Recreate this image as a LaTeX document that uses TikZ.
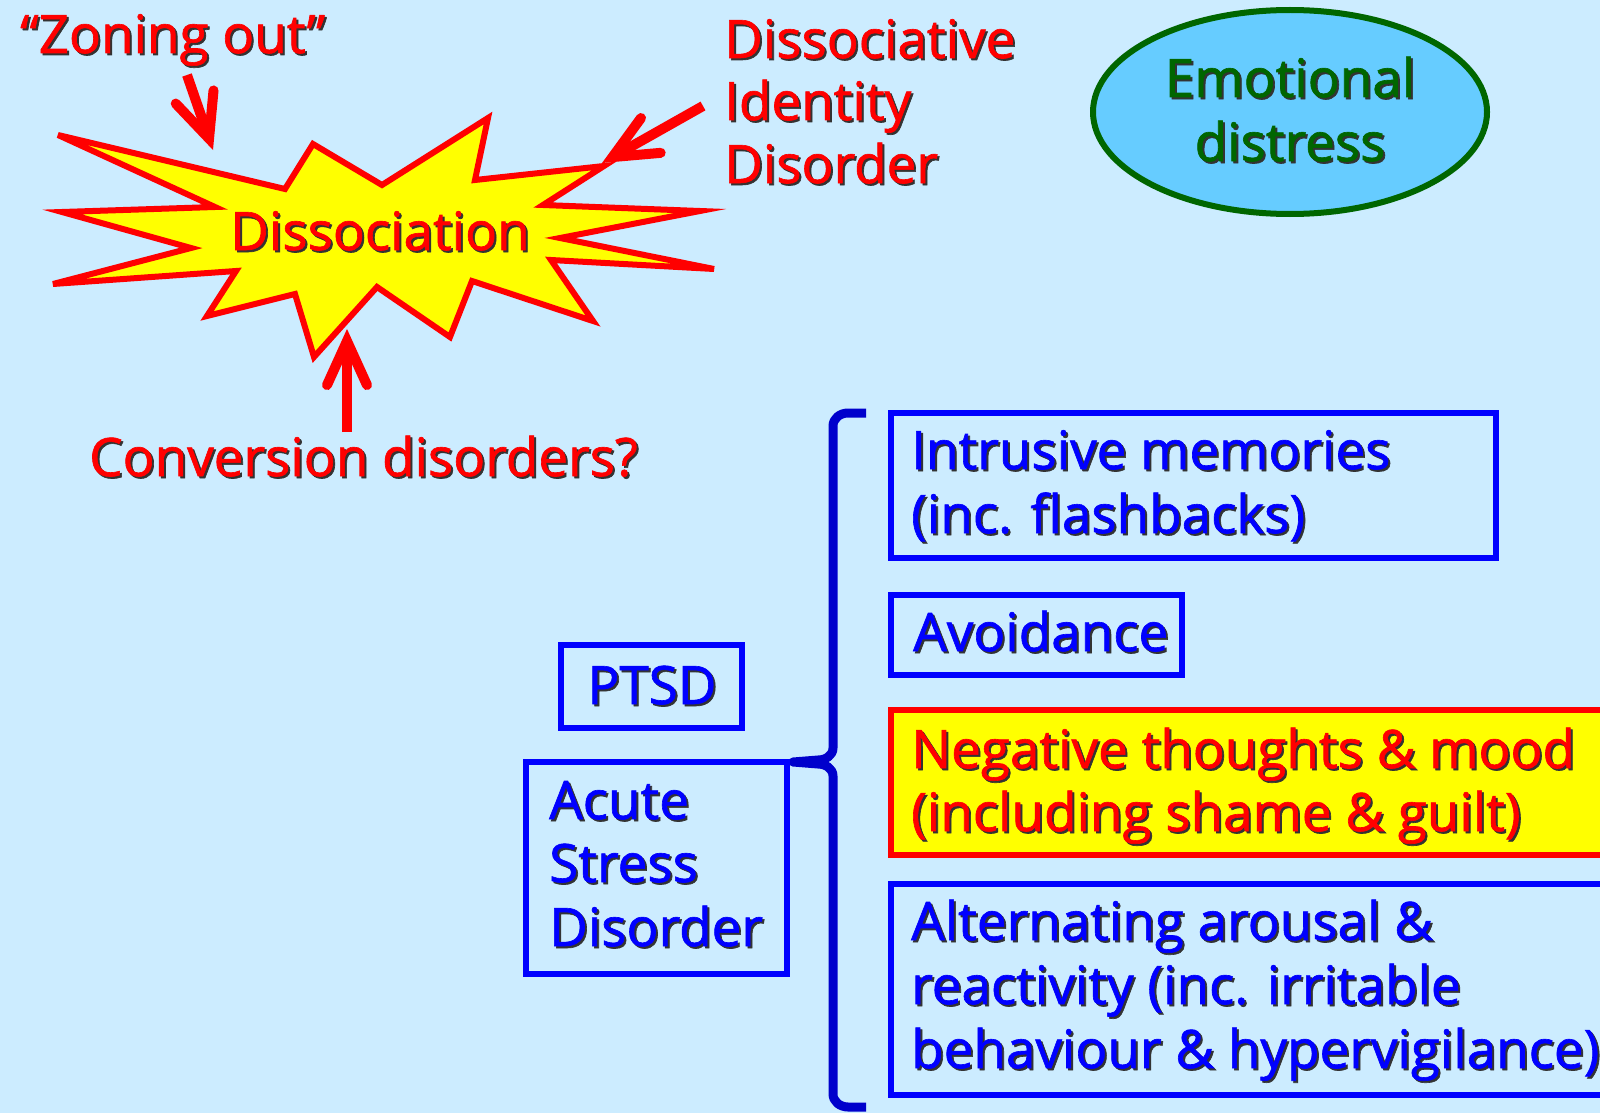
\documentclass[tikz,border=0pt]{standalone}
\usepackage{fontspec}
\setmainfont{Open Sans}[BoldFont=Open Sans, BoldFeatures={FakeBold=1.2}]
\usetikzlibrary{arrows.meta,shapes.geometric}
\definecolor{bg}{HTML}{CCECFF}
\definecolor{myred}{HTML}{FF0000}
\definecolor{myyellow}{HTML}{FFFF00}
\definecolor{myblue}{HTML}{0000FF}
\definecolor{bracecol}{HTML}{0000CC}
\definecolor{ellfill}{HTML}{66CCFF}
\definecolor{ellgreen}{HTML}{006600}
\newcommand\shd[1]{\rlap{\kern2pt\raisebox{-2pt}{\textcolor{black!80}{#1}}}#1}
\begin{document}
\begin{tikzpicture}[x=1pt,y=-1pt,
  txt/.style={inner sep=0pt, anchor=base west, font=\fontsize{53}{63}\selectfont\bfseries},
  ctxt/.style={txt, anchor=base},
  redtxt/.style={txt, text=myred},
  bluetxt/.style={txt, text=myblue},
  bluebox/.style={draw=myblue, line width=6pt},
  redbox/.style={draw=myred, fill=myyellow, line width=6pt},
  arr/.style={draw=myred, line width=10pt, line cap=butt,
    -{Straight Barb[length=44pt,width=40pt,line cap=round,line join=miter]}}]
\fill[bg] (0,0) rectangle (1600,1113);
\useasboundingbox (0,0) rectangle (1600,1113);
\clip (0,0) rectangle (1600,1113);

% starburst
\draw[myred, line width=6pt, fill=myyellow, line join=miter]
 (58,135) -- (285,189) -- (313,144) -- (382,185) -- (488,118) -- (475,180)
 -- (604,166) -- (543,205) -- (700,211) -- (560,238) -- (714,269) -- (551,260)
 -- (593,321) -- (472,281) -- (450,337) -- (377,287) -- (314,357) -- (295,294)
 -- (207,316) -- (236,271) -- (53,284) -- (191,248) -- (62,212) -- (215,207) -- cycle;
\node[ctxt, text=myred] (diss) at (380,250) {\shd{Dissociation}};

% arrows
\coordinate (zt) at (187,75);
\coordinate (zh) at (213,150);
\coordinate (dt) at (703,106);
\coordinate (dh) at (602,163);
\coordinate (ct) at (347,432);
\coordinate (ch) at (347,329);
\draw[arr] (zt) -- (zh);
\draw[arr] (dt) -- (dh);
\draw[arr] (ct) -- (ch);

\node[redtxt] (zon) at (20,53) {\shd{“Zoning out”}};
\node[redtxt] (did1) at (724,58) {\shd{Dissociative}};
\node[redtxt] (did2) at (724,120) {\shd{Identity}};
\node[redtxt] (did3) at (724,183) {\shd{Disorder}};
\node[redtxt] (conv) at (89,476) {\shd{Conversion disorders?}};

% ellipse
\node[ellipse, draw=ellgreen, fill=ellfill, line width=6pt, minimum width=394pt, minimum height=204pt] (emo) at (1290,112) {};
\node[ctxt, text=ellgreen] (emo1) at (1290,97) {\shd{Emotional}};
\node[ctxt, text=ellgreen] (emo2) at (1290,161) {\shd{distress}};

% brace
\draw[bracecol, line width=9pt, line join=round, line cap=butt]
 (866,413) -- (848,413) to[out=180,in=90] (833,426) -- (833,748)
 to[out=-90,in=0] (818,760) -- (793,762) -- (818,764)
 to[out=0,in=90] (833,776) -- (833,1094) to[out=-90,in=180] (848,1107) -- (866,1107);

% boxes
\node[bluebox, minimum width=605pt, minimum height=145pt, inner sep=0pt] (intr) at (1193.5,485.5) {};
\node[bluebox, minimum width=291pt, minimum height=80pt, inner sep=0pt] (avoid) at (1036.5,635) {};
\node[redbox, minimum width=729pt, minimum height=145pt, inner sep=0pt] (neg) at (1255.5,782.5) {};
\node[bluebox, minimum width=729pt, minimum height=211pt, inner sep=0pt] (alt) at (1255.5,989.5) {};
\node[bluebox, minimum width=181pt, minimum height=83pt, inner sep=0pt] (ptsd) at (651.5,686.5) {};
\node[bluebox, minimum width=261pt, minimum height=212pt, inner sep=0pt] (acute) at (656.5,868) {};

\node[bluetxt] (t1a) at (911,469) {\shd{Intrusive memories}};
\node[bluetxt] (t1b) at (911,533) {\shd{(inc. flashbacks)}};
\node[bluetxt] (t2) at (913,651) {\shd{Avoidance}};
\node[redtxt] (t3a) at (911,768) {\shd{Negative thoughts \& mood}};
\node[redtxt] (t3b) at (911,831) {\shd{(including shame \& guilt)}};
\node[bluetxt] (t4a) at (911,940) {\shd{Alternating arousal \&}};
\node[bluetxt] (t4b) at (911,1004) {\shd{reactivity (inc. irritable}};
\node[bluetxt] (t4c) at (911,1068) {\shd{behaviour \& hypervigilance)}};
\node[ctxt, text=myblue] (tp) at (652,704) {\shd{PTSD}};
\node[bluetxt] (ta1) at (549,819) {\shd{Acute}};
\node[bluetxt] (ta2) at (549,882) {\shd{Stress}};
\node[bluetxt] (ta3) at (549,946) {\shd{Disorder}};
\end{tikzpicture}
\end{document}
